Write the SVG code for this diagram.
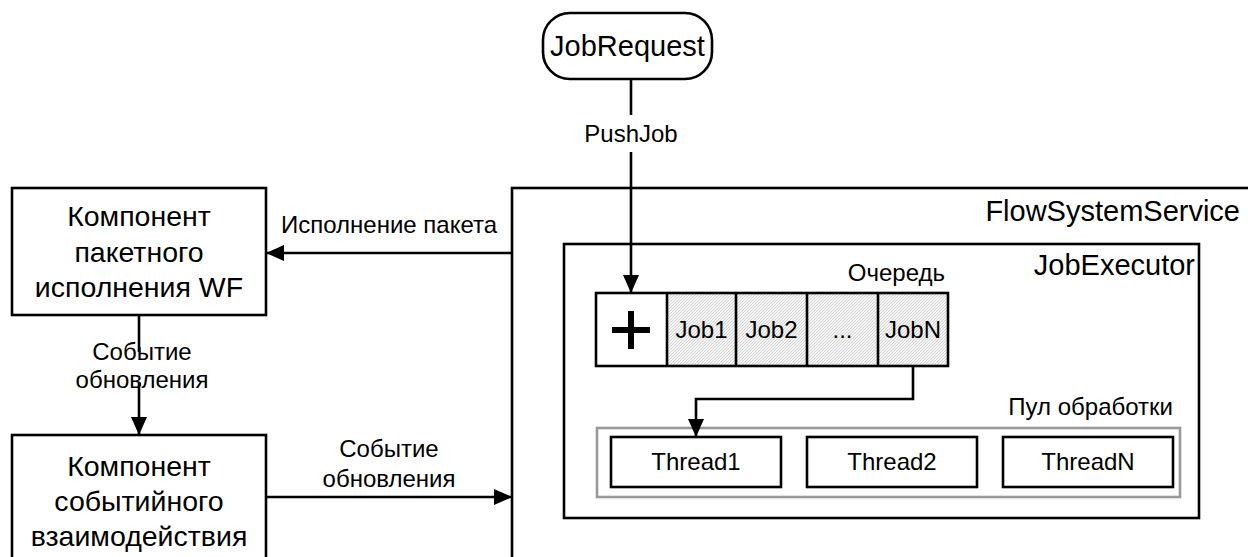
<svg xmlns="http://www.w3.org/2000/svg" width="1248" height="557" viewBox="0 0 1248 557">
<style>
  .box{fill:#fff;stroke:#000;stroke-width:2.6}
  .frame{fill:none;stroke:#000;stroke-width:2.6}
  .t{font-family:"Liberation Sans",Arial,sans-serif;fill:#000}
  .big{font-size:28.5px}
  .title{font-size:29px}
  .lbl{font-size:24px}
  .c{text-anchor:middle}
  .r{text-anchor:end}
  .edge{fill:none;stroke:#000;stroke-width:2.6}
</style>
<defs>
  <marker id="ah" viewBox="0 0 18 16" refX="18" refY="8" markerWidth="18" markerHeight="16" markerUnits="userSpaceOnUse" orient="auto">
    <path d="M0,0 L18,8 L0,16 Z" fill="#000"/>
  </marker>
  <pattern id="hatch" width="3" height="3" patternUnits="userSpaceOnUse">
    <rect width="3" height="3" fill="#f4f4f4"/>
    <path d="M-1,1 L1,-1 M0,3 L3,0 M2,4 L4,2" stroke="#c6c6c6" stroke-width="0.7"/>
  </pattern>
</defs>

<g id="flowsystemservice">
  <rect class="box" x="512" y="188" width="760" height="400"/>
  <text class="t title r" x="1240" y="221">FlowSystemService</text>
</g>

<g id="jobexecutor">
  <rect class="box" x="564" y="244" width="635" height="274"/>
  <text class="t title r" x="1195" y="275">JobExecutor</text>
</g>

<g id="jobrequest">
  <rect class="box" x="543" y="13" width="169" height="66" rx="27" ry="27"/>
  <text class="t title c" x="627.5" y="56">JobRequest</text>
</g>

<g id="queue">
  <text class="t lbl r" x="945" y="281">Очередь</text>
  <rect x="667" y="293" width="281" height="73" fill="url(#hatch)"/>
  <rect class="frame" x="596" y="293" width="352" height="73"/>
  <line class="edge" x1="667" y1="293" x2="667" y2="366"/>
  <line class="edge" x1="736" y1="293" x2="736" y2="366"/>
  <line class="edge" x1="807" y1="293" x2="807" y2="366"/>
  <line class="edge" x1="878" y1="293" x2="878" y2="366"/>
  <path d="M612,330 H650 M631,311 V349" stroke="#000" stroke-width="6"/>
  <text class="t lbl c" x="701.5" y="338">Job1</text>
  <text class="t lbl c" x="771.5" y="338">Job2</text>
  <text class="t lbl c" x="842.5" y="338">...</text>
  <text class="t lbl c" x="913" y="338">JobN</text>
</g>

<g id="pool">
  <text class="t lbl r" x="1173" y="415">Пул обработки</text>
  <rect x="597" y="428" width="583" height="69" fill="none" stroke="#999" stroke-width="2.6"/>
</g>

<g id="thread1">
  <rect class="box" x="611" y="437" width="170" height="50"/>
  <text class="t lbl c" x="696" y="470">Thread1</text>
</g>
<g id="thread2">
  <rect class="box" x="807" y="437" width="170" height="50"/>
  <text class="t lbl c" x="892" y="470">Thread2</text>
</g>
<g id="threadN">
  <rect class="box" x="1003" y="437" width="170" height="50"/>
  <text class="t lbl c" x="1088" y="470">ThreadN</text>
</g>

<g id="batch-component">
  <rect class="box" x="12" y="188" width="254" height="127"/>
  <text class="t big c" x="139" y="226">Компонент</text>
  <text class="t big c" x="139" y="262">пакетного</text>
  <text class="t big c" x="139" y="297">исполнения WF</text>
</g>

<g id="event-component">
  <rect class="box" x="12" y="435" width="254" height="150"/>
  <text class="t big c" x="139" y="476">Компонент</text>
  <text class="t big c" x="139" y="511">событийного</text>
  <text class="t big c" x="139" y="546">взаимодействия</text>
</g>

<g id="connectors">
  <line class="edge" x1="631" y1="79" x2="631" y2="115"/>
  <line class="edge" x1="631" y1="152" x2="631" y2="293" marker-end="url(#ah)"/>
  <text class="t lbl c" x="631" y="142">PushJob</text>

  <line class="edge" x1="512" y1="253" x2="266" y2="253" marker-end="url(#ah)"/>
  <text class="t lbl c" x="389" y="233">Исполнение пакета</text>

  <line class="edge" x1="139" y1="315" x2="139" y2="352"/>
  <line class="edge" x1="139" y1="382" x2="139" y2="435" marker-end="url(#ah)"/>
  <text class="t lbl c" x="142" y="360">Событие</text>
  <text class="t lbl c" x="142" y="388">обновления</text>

  <line class="edge" x1="266" y1="497" x2="512" y2="497" marker-end="url(#ah)"/>
  <text class="t lbl c" x="389" y="457">Событие</text>
  <text class="t lbl c" x="389" y="487">обновления</text>

  <path class="edge" d="M913,366 V399 H696 V437" marker-end="url(#ah)"/>
</g>
</svg>
